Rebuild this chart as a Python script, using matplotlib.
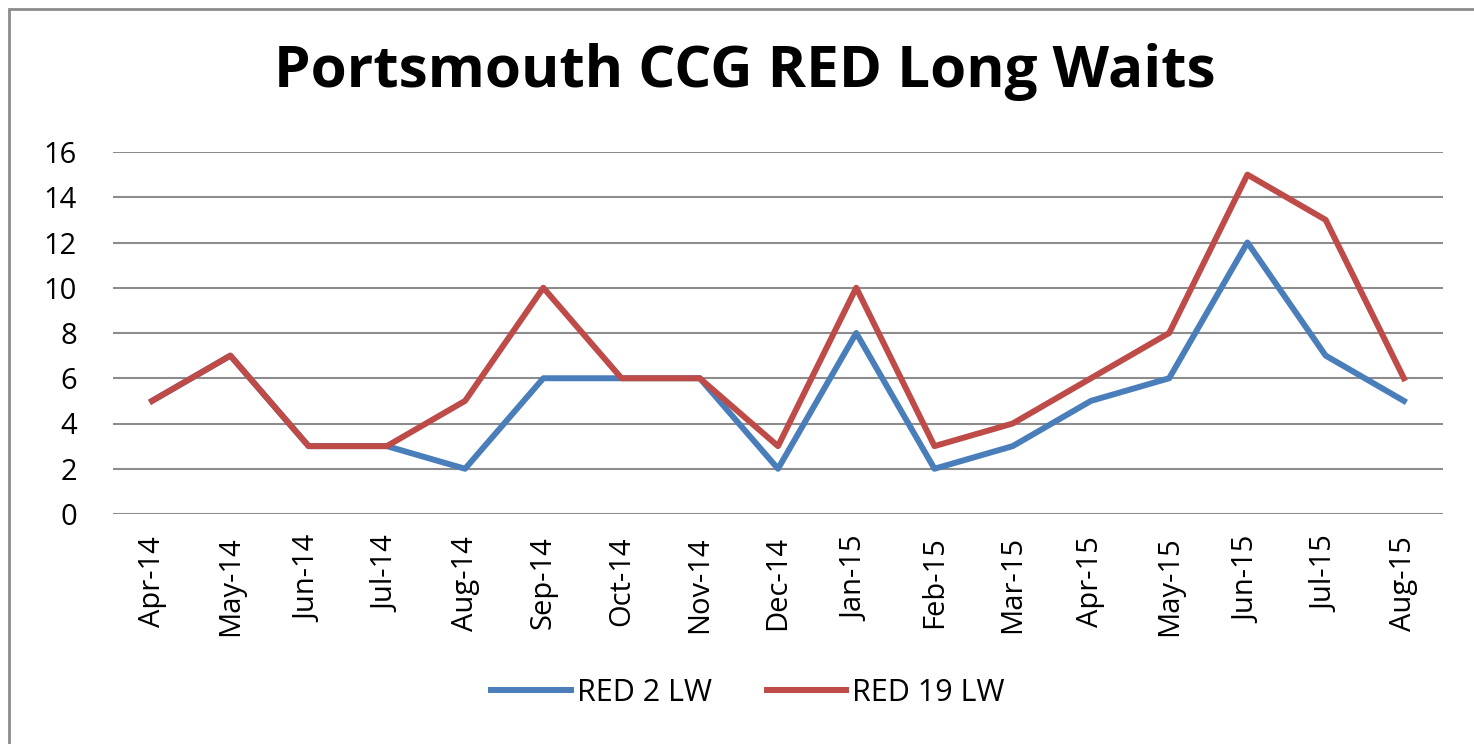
import matplotlib.pyplot as plt
from matplotlib.patches import Rectangle

months = ['Apr-14', 'May-14', 'Jun-14', 'Jul-14', 'Aug-14', 'Sep-14', 'Oct-14', 'Nov-14',
          'Dec-14', 'Jan-15', 'Feb-15', 'Mar-15', 'Apr-15', 'May-15', 'Jun-15', 'Jul-15', 'Aug-15']
red2 = [5, 7, 3, 3, 2, 6, 6, 6, 2, 8, 2, 3, 5, 6, 12, 7, 5]
red19 = [5, 7, 3, 3, 5, 10, 6, 6, 3, 10, 3, 4, 6, 8, 15, 13, 6]

plt.rcParams['font.family'] = ['Open Sans', 'DejaVu Sans']

W, H = 1474, 744
fig = plt.figure(figsize=(W / 100, H / 100), dpi=100)
ax = fig.add_axes([113 / W, 1 - 514 / H, (1443 - 113) / W, (514 - 152) / H])

x = range(len(months))
ax.plot(x, red2, color='#4a7ebb', lw=4.3, label='RED 2 LW', solid_joinstyle='round')
ax.plot(x, red19, color='#be4b48', lw=4.3, label='RED 19 LW', solid_joinstyle='round')

ax.set_xlim(-0.5, len(months) - 0.5)
ax.set_ylim(0, 16)
ax.set_yticks(range(0, 17, 2))
ax.set_xticks(list(x))
ax.set_xticklabels(months, rotation=90, fontsize=21)
ax.tick_params(axis='y', labelsize=21, length=0, pad=26)
ax.tick_params(axis='x', length=0, pad=16)
ax.yaxis.grid(True, color='#8c8c8c', lw=1.5)
ax.set_axisbelow(True)
for s in ax.spines.values():
    s.set_visible(False)

fig.text(745 / W, 1 - 72 / H, 'Portsmouth CCG RED Long Waits', ha='center', va='center',
         fontsize=42, fontweight='bold')

fig.legend(loc='center', bbox_to_anchor=(748 / W, 1 - 693 / H), ncol=2, frameon=False,
           fontsize=22, handlelength=2.6, handletextpad=0.2, columnspacing=1.8)

fig.patches.append(Rectangle((9 / W, -0.1), 1.2, 1 - 9 / H + 0.1, transform=fig.transFigure,
                             fill=False, edgecolor='#8c8c8c', lw=2))

fig.savefig('out.png', dpi=100)
